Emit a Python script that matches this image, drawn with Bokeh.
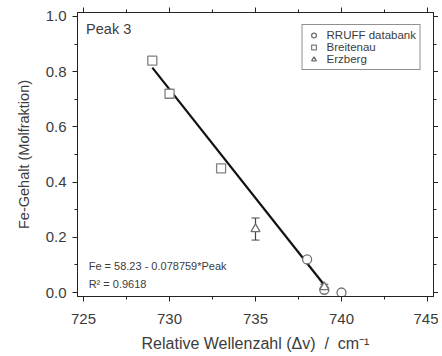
from bokeh.plotting import figure
from bokeh.models import (ColumnDataSource, LinearAxis, SingleIntervalTicker, Range1d,
                          Label, Whisker, Legend, LegendItem, CustomJSTickFormatter,
                          PrintfTickFormatter)
from bokeh.embed import file_html
from bokeh.resources import INLINE

# ---- data ----
rruff_x = [738.0, 740.0, 739.0]
rruff_y = [0.12, 0.0, 0.01]
breit_x = [729.0, 730.0, 733.0]
breit_y = [0.84, 0.72, 0.45]
erz_x = [735.0, 739.0]
erz_y = [0.23, 0.02]
erz_lo = [0.19, 0.01]
erz_hi = [0.27, 0.03]
fit_intercept = 58.23
fit_slope = -0.078759
fit_x = [729.0, 739.0]
fit_y = [fit_intercept + fit_slope * v for v in fit_x]
r2 = "0.9618"

FONT = "Liberation Sans"
TXT = "#3c3c3c"
NB = "\u00a0"

p = figure(width=438, height=354, output_backend="svg", toolbar_location=None,
           x_range=Range1d(724.65, 745.35), y_range=Range1d(-0.0144, 1.0144),
           x_axis_location=None, y_axis_location=None,
           min_border_left=77, min_border_right=5, min_border_top=12, min_border_bottom=57)
p.background_fill_color = "white"
p.border_fill_color = "white"
p.outline_line_color = "#222222"
p.outline_line_width = 1
p.xgrid.visible = False
p.ygrid.visible = False


def style_axis(ax, labels=True):
    ax.axis_line_color = "#222222"
    ax.major_tick_line_color = "#222222"
    ax.minor_tick_line_color = "#222222"
    ax.major_tick_out = 5
    ax.major_tick_in = 0
    ax.minor_tick_out = 3
    ax.minor_tick_in = 0
    ax.major_label_text_font = FONT
    ax.major_label_text_font_size = "15px"
    ax.major_label_text_color = TXT
    ax.axis_label_text_font = FONT
    ax.axis_label_text_font_style = "normal"
    ax.axis_label_text_color = TXT
    if not labels:
        ax.formatter = CustomJSTickFormatter(code="return ''")
        ax.major_label_standoff = 0


xb = LinearAxis(ticker=SingleIntervalTicker(interval=5, num_minor_ticks=2),
                axis_label=f"Relative Wellenzahl (\u0394v){NB}{NB}/{NB}{NB}cm\u207b\u00b9")
style_axis(xb)
xb.axis_label_text_font_size = "16px"
xb.major_label_standoff = 12
xb.axis_label_standoff = 8
p.add_layout(xb, "below")

yl = LinearAxis(ticker=SingleIntervalTicker(interval=0.2, num_minor_ticks=2),
                axis_label="Fe-Gehalt (Molfraktion)")
style_axis(yl)
yl.formatter = PrintfTickFormatter(format="%.1f")
yl.axis_label_text_font_size = "14.5px"
yl.major_label_standoff = 6
yl.axis_label_standoff = 11
p.add_layout(yl, "left")

xt = LinearAxis(ticker=SingleIntervalTicker(interval=5, num_minor_ticks=2))
style_axis(xt, labels=False)
p.add_layout(xt, "above")

yr = LinearAxis(ticker=SingleIntervalTicker(interval=0.2, num_minor_ticks=2))
style_axis(yr, labels=False)
p.add_layout(yr, "right")

# fit line
p.line(fit_x, fit_y, line_color="#111111", line_width=2.2)

# error bars
src_e = ColumnDataSource(dict(x=erz_x, y=erz_y, lo=erz_lo, hi=erz_hi))
w = Whisker(source=src_e, base="x", upper="hi", lower="lo", line_color="#444444",
            line_width=1.2)
w.upper_head.size = 8
w.lower_head.size = 8
w.upper_head.line_color = "#444444"
w.lower_head.line_color = "#444444"
p.add_layout(w)

r_rruff = p.scatter(rruff_x, rruff_y, marker="circle", size=9, fill_color="white",
                    line_color="#707070", line_width=1.3)
r_breit = p.scatter(breit_x, breit_y, marker="square", size=9, fill_color="white",
                    line_color="#808080", line_width=1.3)
r_erz = p.scatter(erz_x, erz_y, marker="triangle", size=9, fill_color="white",
                  line_color="#707070", line_width=1.3)

legend = Legend(items=[LegendItem(label="RRUFF databank", renderers=[r_rruff]),
                       LegendItem(label="Breitenau", renderers=[r_breit]),
                       LegendItem(label="Erzberg", renderers=[r_erz])],
                location="top_right")
legend.label_text_font = FONT
legend.label_text_font_size = "11.5px"
legend.label_text_color = TXT
legend.glyph_height = 12
legend.glyph_width = 14
legend.label_height = 12
legend.label_standoff = 6
legend.spacing = 0
legend.padding = 4
legend.margin = 12
legend.border_line_color = "#222222"
legend.border_line_width = 1.2
legend.background_fill_alpha = 1
p.add_layout(legend)

p.add_layout(Label(x=725.15, y=0.982, text="Peak 3", text_font=FONT,
                   text_font_size="14.5px", text_color=TXT, text_baseline="top"))
p.add_layout(Label(x=725.3, y=0.096,
                   text=f"Fe = {fit_intercept} - {abs(fit_slope)}*Peak",
                   text_font=FONT, text_font_size="11px", text_color=TXT,
                   text_baseline="middle"))
p.add_layout(Label(x=725.3, y=0.032, text=f"R\u00b2 = {r2}",
                   text_font=FONT, text_font_size="11px", text_color=TXT,
                   text_baseline="middle"))

open("out.html", "w").write(file_html(p, INLINE))
